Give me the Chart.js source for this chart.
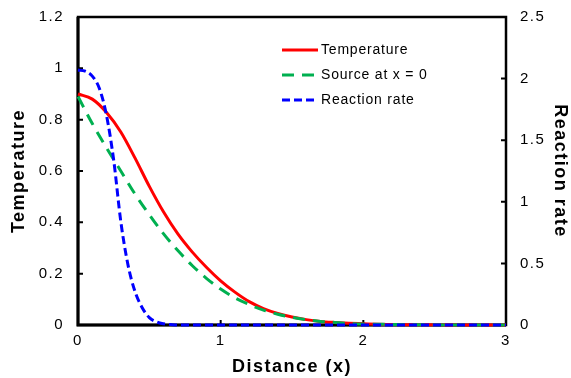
<html>
<head>
  <meta charset="utf-8"/>
  <title>Temperature and reaction rate vs distance</title>
  <script src="https://cdn.jsdelivr.net/npm/chart.js"></script>
  <style>
    body { margin: 0; background: #fff; }
  </style>
</head>
<body>
  <canvas id="chart" width="571" height="378"></canvas>
  <script>
    // values
    const distance = [0, 0.1, 0.2, 0.3, 0.4, 0.5, 0.6, 0.7, 0.8, 0.9, 1.0,
                      1.1, 1.2, 1.3, 1.4, 1.5, 1.6, 1.7, 1.8, 1.9, 2.0,
                      2.1, 2.2, 2.3, 2.4, 2.5, 2.6, 2.7, 2.8, 2.9, 3.0];
    const temperature = [0.90, 0.88, 0.828, 0.752, 0.65, 0.54, 0.44, 0.355, 0.285, 0.225, 0.172,
                         0.128, 0.091, 0.064, 0.045, 0.031, 0.021, 0.014, 0.010, 0.007, 0.005,
                         0.003, 0.002, 0.001, 0.001, 0, 0, 0, 0, 0, 0];
    const sourceAtZero = [0.89, 0.785, 0.69, 0.60, 0.51, 0.43, 0.355, 0.29, 0.232, 0.182, 0.140,
                          0.106, 0.080, 0.058, 0.042, 0.030, 0.021, 0.014, 0.010, 0.006, 0.004,
                          0.003, 0.002, 0.001, 0.001, 0, 0, 0, 0, 0, 0];
    const rateDistance = [0, 0.05, 0.1, 0.15, 0.2, 0.25, 0.3, 0.35, 0.4, 0.45, 0.5,
                          0.55, 0.6, 0.65, 0.7, 1.0, 1.5, 2.0, 2.5, 3.0];
    const reactionRate = [2.07, 2.06, 2.02, 1.92, 1.70, 1.34, 0.84, 0.49, 0.27, 0.14, 0.06,
                          0.025, 0.01, 0.004, 0, 0, 0, 0, 0, 0];

    const xTicks = [0, 1, 2, 3];
    const leftTicks = [0, 0.2, 0.4, 0.6, 0.8, 1, 1.2];
    const rightTicks = [0, 0.5, 1, 1.5, 2, 2.5];

    const toPoints = (xs, ys) => xs.map((x, i) => ({ x: x, y: ys[i] }));

    // the original text is set a little wide
    const spacing = {
      id: 'spacing',
      beforeLayout(chart) { chart.ctx.letterSpacing = '1.5px'; },
      beforeDraw(chart) { chart.ctx.letterSpacing = '1.5px'; }
    };

    const frame = {
      id: 'frame',
      beforeDatasetsDraw(chart) {
        const { ctx, chartArea: a, scales } = chart;
        ctx.save();
        ctx.strokeStyle = '#000';
        ctx.lineWidth = 2.5;
        ctx.strokeRect(a.left, a.top, a.right - a.left, a.bottom - a.top);
        ctx.lineWidth = 3;
        ctx.beginPath();
        ctx.moveTo(a.left, a.top);
        ctx.lineTo(a.left, a.bottom);
        ctx.lineTo(a.right, a.bottom);
        ctx.stroke();
        // small inward tick marks
        ctx.lineWidth = 2;
        ctx.beginPath();
        leftTicks.forEach(v => {
          const y = scales.y.getPixelForValue(v);
          ctx.moveTo(a.left, y); ctx.lineTo(a.left + 5, y);
        });
        rightTicks.forEach(v => {
          const y = scales.y1.getPixelForValue(v);
          ctx.moveTo(a.right, y); ctx.lineTo(a.right - 5, y);
        });
        xTicks.forEach(v => {
          const x = scales.x.getPixelForValue(v);
          ctx.moveTo(x, a.bottom); ctx.lineTo(x, a.bottom - 5);
        });
        ctx.stroke();
        ctx.restore();
      }
    };

    const legendBox = {
      id: 'legendBox',
      afterDraw(chart) {
        const ctx = chart.ctx;
        const rows = [50, 75, 100];
        ctx.save();
        ctx.letterSpacing = '0.8px';
        ctx.font = '14px "Liberation Sans", Arial, sans-serif';
        ctx.textBaseline = 'middle';
        ctx.fillStyle = '#000';
        chart.data.datasets.forEach((ds, i) => {
          const y = rows[i];
          ctx.strokeStyle = ds.borderColor;
          ctx.lineWidth = ds.borderWidth;
          ctx.setLineDash(ds.borderDash || []);
          ctx.beginPath();
          ctx.moveTo(282, y); ctx.lineTo(318, y);
          ctx.stroke();
          ctx.setLineDash([]);
          ctx.fillText(ds.label, 321, y);
        });
        ctx.restore();
      }
    };

    const tickFont = { family: '"Liberation Sans", Arial, sans-serif', size: 15 };
    const titleFont = { family: '"Liberation Sans", Arial, sans-serif', size: 18, weight: 'bold' };

    new Chart(document.getElementById('chart').getContext('2d'), {
      type: 'line',
      data: {
        datasets: [
          {
            label: 'Temperature',
            data: toPoints(distance, temperature),
            borderColor: '#ff0000',
            borderWidth: 3,
            yAxisID: 'y',
            order: 2
          },
          {
            label: 'Source at x = 0',
            data: toPoints(distance, sourceAtZero),
            borderColor: '#00b050',
            borderWidth: 3,
            borderDash: [12, 8],
            yAxisID: 'y',
            order: 1
          },
          {
            label: 'Reaction rate',
            data: toPoints(rateDistance, reactionRate),
            borderColor: '#0000ff',
            borderWidth: 3,
            borderDash: [8, 4],
            yAxisID: 'y1',
            order: 0
          }
        ]
      },
      options: {
        responsive: false,
        animation: false,
        layout: { padding: { top: 17, left: 0, right: 0, bottom: 0 } },
        elements: {
          point: { radius: 0 },
          line: { cubicInterpolationMode: 'monotone', fill: false }
        },
        datasets: { line: { clip: 4 } },
        plugins: {
          legend: { display: false },
          tooltip: { enabled: false }
        },
        scales: {
          x: {
            type: 'linear',
            min: 0, max: 3,
            afterBuildTicks: s => { s.ticks = xTicks.map(v => ({ value: v })); },
            afterFit: s => { s.height = 53; s.paddingLeft = 0; s.paddingRight = 0; },
            grid: { display: false, drawTicks: false },
            border: { display: false },
            ticks: { color: '#000', font: tickFont, padding: 7, maxRotation: 0 },
            title: { display: true, text: 'Distance (x)', color: '#000', font: titleFont, padding: { top: 0, bottom: 0 } }
          },
          y: {
            position: 'left',
            min: 0, max: 1.2,
            afterBuildTicks: s => { s.ticks = leftTicks.map(v => ({ value: v })); },
            afterFit: s => { s.width = 78; s.paddingTop = 0; s.paddingBottom = 0; },
            grid: { display: false, drawTicks: false },
            border: { display: false },
            ticks: { color: '#000', font: tickFont, padding: 14, callback: v => String(v) },
            title: { display: true, text: 'Temperature', color: '#000', font: titleFont, padding: { top: 8, bottom: 0 } }
          },
          y1: {
            position: 'right',
            min: 0, max: 2.5,
            afterBuildTicks: s => { s.ticks = rightTicks.map(v => ({ value: v })); },
            afterFit: s => { s.width = 65; s.paddingTop = 0; s.paddingBottom = 0; },
            grid: { display: false, drawTicks: false },
            border: { display: false },
            ticks: { color: '#000', font: tickFont, padding: 14, callback: v => String(v) },
            title: { display: true, text: 'Reaction rate', color: '#000', font: titleFont, padding: { top: 0, bottom: 0 } }
          }
        }
      },
      plugins: [spacing, frame, legendBox]
    });
  </script>
</body>
</html>
